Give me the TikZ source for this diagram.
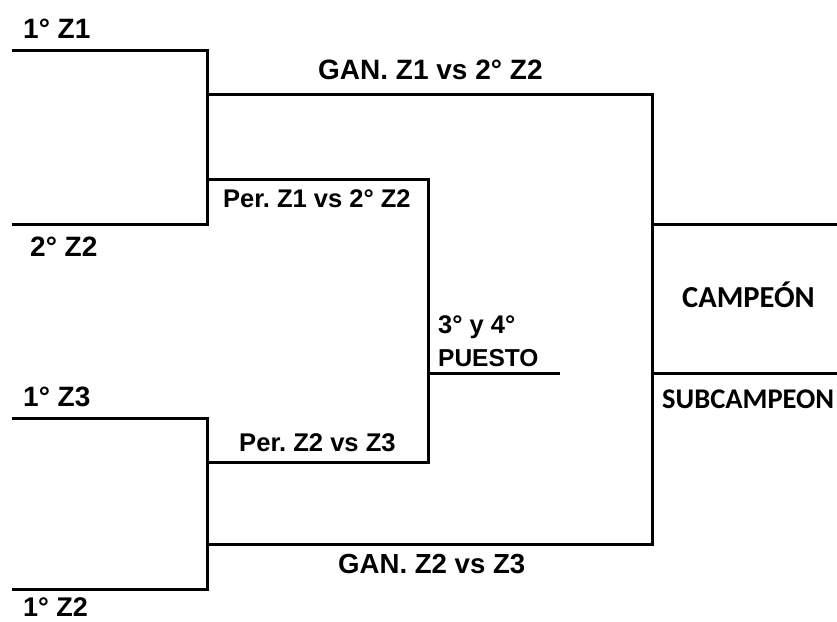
\documentclass[tikz,border=0pt]{standalone}
\usepackage{fontspec}
\setmainfont{Liberation Sans}
\newfontfamily\calib{Carlito}
\frenchspacing
\begin{document}
\begin{tikzpicture}[x=1pt,y=-1pt,
  bline/.style={line width=3pt,line join=miter},
  lbl/.style={anchor=base west,inner sep=0pt,font=\frenchspacing\bfseries\fontsize{#1}{#1}\selectfont},
  clbl/.style={anchor=base west,inner sep=0pt,font=\calib\bfseries\fontsize{#1}{#1}\selectfont}]
\useasboundingbox (0,0) rectangle (837,621);
% coordinates
\coordinate (a1) at (12,50);  \coordinate (a2) at (207,50);
\coordinate (a3) at (207,224); \coordinate (a4) at (12,224);
\coordinate (b1) at (12,418); \coordinate (b2) at (207,418);
\coordinate (b3) at (207,589); \coordinate (b4) at (12,589);
\coordinate (g1) at (207,94); \coordinate (g2) at (652,94);
\coordinate (g3) at (652,544); \coordinate (g4) at (207,544);
\coordinate (p1) at (207,179); \coordinate (p2) at (428,179);
\coordinate (p3) at (428,462); \coordinate (p4) at (207,462);
\coordinate (c1) at (652,224); \coordinate (c2) at (837,224);
\coordinate (s1) at (652,373); \coordinate (s2) at (837,373);
\coordinate (t1) at (428,373); \coordinate (t2) at (560,373);
% brackets
\draw[bline] (a1) -- (a2) -- (a3) -- (a4);
\draw[bline] (b1) -- (b2) -- (b3) -- (b4);
\draw[bline] (g1) -- (g2) -- (g3) -- (g4);
\draw[bline] (p1) -- (p2) -- (p3) -- (p4);
\draw[bline] (c1) -- (c2);
\draw[bline] (s1) -- (s2);
\draw[bline] (t1) -- (t2);
% labels
\node[lbl=28]   (l1) at (23,38)  {1° Z1};
\node[lbl=28]   (l2) at (318,79) {GAN. Z1 vs 2° Z2};
\node[lbl=25.5] (l3) at (223,207) {Per. Z1 vs 2° Z2};
\node[lbl=28]   (l4) at (30,256) {2° Z2};
\node[lbl=25.5] (l5) at (438,333) {3° y 4°};
\node[lbl=24.5] (l6) at (438,366) {PUESTO};
\node[clbl=30.5] (l7) at (682,307) {CAMPEÓN};
\node[clbl=28.5] (l8) at (662,408) {SUBCAMPEON};
\node[lbl=28]   (l9) at (23,406) {1° Z3};
\node[lbl=25.6] (l10) at (239,451) {Per. Z2 vs Z3};
\node[lbl=27.6] (l11) at (338,573) {GAN. Z2 vs Z3};
\node[lbl=27]   (l12) at (23,616) {1° Z2};
\end{tikzpicture}
\end{document}
